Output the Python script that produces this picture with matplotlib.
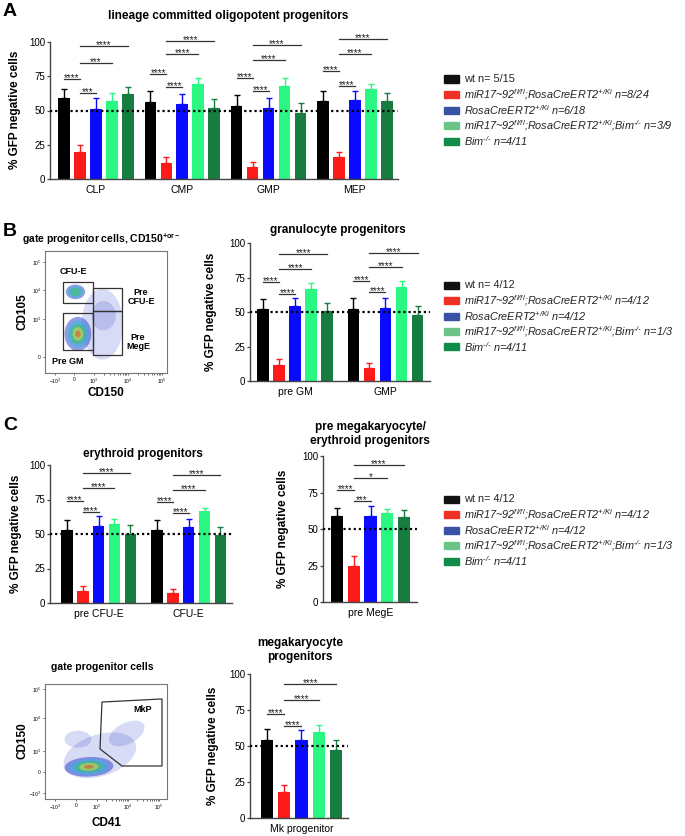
import matplotlib
matplotlib.use('Agg')
import matplotlib.pyplot as plt
from matplotlib.patches import Rectangle, Ellipse, Polygon
import numpy as np

plt.rcParams['font.family'] = ['Liberation Sans', 'DejaVu Sans']
plt.rcParams['mathtext.fontset'] = 'custom'
plt.rcParams['mathtext.default'] = 'regular'
plt.rcParams['mathtext.rm'] = 'Liberation Sans:italic'
plt.rcParams['mathtext.it'] = 'Liberation Sans:italic'
plt.rcParams['mathtext.bf'] = 'Liberation Sans:bold'

W, H = 685, 836

# ---------------- data ----------------
bar_colors = ['#000000', '#ff1a1a', '#0a0aff', '#2bf783', '#177c40']
legend_colors = ['#111111', '#ee3124', '#3953a4', '#6cc387', '#0e8c48']

a_groups = ['CLP', 'CMP', 'GMP', 'MEP']
a_mean = [[59, 20, 51, 57, 62], [56, 11.5, 55, 69, 52],
          [53, 8.5, 52, 68, 48], [57, 16, 58, 66, 57]]
a_err = [[7, 4.5, 8, 6, 5], [8, 4.5, 7, 4.5, 6.5],
         [8, 4, 7, 5.5, 7.5], [7.5, 4, 6, 3.5, 5.5]]
a_heights = [[73, 63, 85, 97], [77, 67, 91, 101],
             [74, 64, 87, 97.5], [78.5, 68, 91, 102]]
a_stars = [['****', '***', '***', '****'], ['****'] * 4,
           ['****'] * 4, ['****'] * 4]

b_groups = ['pre GM', 'GMP']
b_mean = [[52, 11.5, 54, 66.5, 50.5], [52.5, 9.5, 53, 68, 47.5]]
b_err = [[7.5, 4.5, 6, 4.5, 6], [7.5, 3.5, 7, 4.5, 6.5]]
b_heights = [[71.5, 63, 81, 92], [72.5, 64.5, 82.5, 93]]
b_stars = [['****'] * 4, ['****'] * 4]

c_groups = ['pre CFU-E', 'CFU-E']
c_mean = [[53, 9, 56, 57, 50], [53, 7.3, 55, 67, 49]]
c_err = [[7, 3.5, 7, 4, 6.5], [7, 3, 6, 1.5, 6]]
c_heights = [[74, 66, 83.5, 94.5], [73, 65, 82, 93]]
c_stars = [['****'] * 4, ['****'] * 4]

m_groups = ['pre MegE']
m_mean = [[59, 24.5, 59, 61, 58]]
m_err = [[5.5, 7, 7, 2.5, 5]]
m_heights = [[76.5, 69, 85, 93.5]]
m_stars = [['****', '***', '*', '****']]

k_groups = ['Mk progenitor']
k_mean = [[54, 18, 54.5, 60, 47]]
k_err = [[7.5, 5, 6.5, 4.5, 7]]
k_heights = [[72.5, 64, 82, 93]]
k_stars = [['****'] * 4]

# bracket pairs (from bar, to bar)
pairs = [(0, 1), (1, 2), (1, 3), (1, 4)]

legend_a = ['wt n= 5/15',
            'miR17~92$^{\\text{fl/fl}}$;RosaCreERT2$^{\\text{+/Ki}}$ n=8/24',
            'RosaCreERT2$^{\\text{+/Ki}}$ n=6/18',
            'miR17~92$^{\\text{fl/fl}}$;RosaCreERT2$^{\\text{+/Ki}}$;Bim$^{\\text{-/-}}$ n=3/9',
            'Bim$^{\\text{-/-}}$ n=4/11']
legend_bc = ['wt n= 4/12',
             'miR17~92$^{\\text{fl/fl}}$;RosaCreERT2$^{\\text{+/Ki}}$ n=4/12',
             'RosaCreERT2$^{\\text{+/Ki}}$ n=4/12',
             'miR17~92$^{\\text{fl/fl}}$;RosaCreERT2$^{\\text{+/Ki}}$;Bim$^{\\text{-/-}}$ n=1/3',
             'Bim$^{\\text{-/-}}$ n=4/11']

flow_xlabels = ['$-10^3$', '0', '$10^3$', '$10^4$', '$10^5$']

# flow plot B (axis units 0-1)
fb_xticks = [0.082, 0.238, 0.402, 0.68, 0.959]
fb_yticks = [0.131, 0.443, 0.68, 0.91]
fb_ylabels = ['0', '$10^3$', '$10^4$', '$10^5$']
fb_clusters = [  # cx, cy, w, h, angle, levels
    (0.47, 0.40, 0.34, 0.58, 0, 1),
    (0.48, 0.47, 0.2, 0.24, 0, 1),
    (0.27, 0.32, 0.22, 0.28, 0, 5),
    (0.25, 0.665, 0.16, 0.12, 0, 3),
]
fb_gates = {'CFU-E': (0.148, 0.574, 0.393, 0.746),
            'Pre CFU-E': (0.393, 0.508, 0.631, 0.697),
            'Pre GM': (0.148, 0.189, 0.393, 0.492),
            'Pre MegE': (0.393, 0.148, 0.631, 0.508)}
fb_gate_text = [('CFU-E', 0.23, 0.83), ('Pre\nCFU-E', 0.787, 0.623),
                ('Pre\nMegE', 0.762, 0.254), ('Pre GM', 0.19, 0.098)]

# flow plot MkP
fk_xticks = [0.082, 0.254, 0.426, 0.68, 0.934]
fk_yticks = [0.052, 0.235, 0.417, 0.704, 0.957]
fk_ylabels = ['$-10^3$', '0', '$10^3$', '$10^4$', '$10^5$']
fk_clusters = [
    (0.45, 0.38, 0.62, 0.36, 20, 1),
    (0.67, 0.57, 0.32, 0.18, 30, 1),
    (0.27, 0.52, 0.22, 0.15, 0, 1),
    (0.36, 0.28, 0.40, 0.17, 3, 5),
]
fk_gate = [(0.467, 0.843), (0.959, 0.870), (0.959, 0.287),
           (0.631, 0.287), (0.451, 0.435)]

density_colors = ['#2a3cc8', '#2cb6e6', '#3fc35a', '#e6df3a', '#e8402a']


# ---------------- helpers ----------------
fig = plt.figure(figsize=(W / 100, H / 100), dpi=100)


def px_axes(x0, y0, x1, y1):
    return fig.add_axes([x0 / W, 1 - y1 / H, (x1 - x0) / W, (y1 - y0) / H])


def ftext(x, y, s, **kw):
    fig.text(x / W, 1 - y / H, s, **kw)


def bar_panel(box, xlim, gap, groups, means, errs, heights, stars):
    ax = px_axes(*box)
    for g in range(len(groups)):
        xs = g * gap + np.arange(5)
        ax.bar(xs, means[g], width=0.72, color=bar_colors, zorder=2)
        for i in range(5):
            ax.errorbar(xs[i], means[g][i], yerr=[[0], [errs[g][i]]],
                        fmt='none', ecolor=bar_colors[i], elinewidth=1,
                        capsize=2.5, capthick=1, zorder=2)
        for (i, j), h, s in zip(pairs, heights[g], stars[g]):
            ax.plot([xs[i], xs[j]], [h, h], color='#333333', lw=0.9,
                    clip_on=False)
            ax.annotate(s, ((xs[i] + xs[j]) / 2, h), xytext=(0, -1.5),
                        textcoords='offset points', ha='center',
                        va='baseline', fontsize=7, color='#222222',
                        annotation_clip=False)
    ax.axhline(50, color='black', lw=1.6, ls=(0, (1, 1.3)), zorder=3,
               clip_on=False)
    ax.set_xlim(*xlim)
    ax.set_ylim(0, 100)
    ax.set_xticks([g * gap + 2 for g in range(len(groups))])
    ax.set_xticklabels(groups, fontsize=7.5)
    ax.tick_params(axis='x', length=0, pad=4)
    ax.set_yticks([0, 25, 50, 75, 100])
    ax.tick_params(axis='y', length=2.5, width=0.9, pad=1, labelsize=7,
                   color='#444444')
    for sp in ['top', 'right']:
        ax.spines[sp].set_visible(False)
    for sp in ['left', 'bottom']:
        ax.spines[sp].set_color('#444444')
        ax.spines[sp].set_linewidth(1)
    return ax


def legend_block(x, y0, dy, labels):
    for i, lab in enumerate(labels):
        y = y0 + i * dy
        fig.patches.append(Rectangle(((x) / W, 1 - (y + 3.5) / H), 15 / W,
                                     7 / H, transform=fig.transFigure,
                                     color=legend_colors[i], figure=fig))
        style = 'normal' if i == 0 else 'italic'
        ftext(x + 20, y, lab, fontsize=7.8, style=style, va='center',
              color='#222222')


def flow_panel(box, xticks, yticks, ylabels, clusters):
    ax = px_axes(*box)
    ax.set_xlim(0, 1)
    ax.set_ylim(0, 1)
    for cx, cy, w, h, ang, lev in clusters:
        for k in range(lev):
            f = 1 - k * 0.2
            a = 0.18 if lev == 1 else 0.5
            ax.add_patch(Ellipse((cx, cy), w * f, h * f, angle=ang,
                                 color=density_colors[k], alpha=a, lw=0))
    ax.set_xticks(xticks)
    ax.set_xticklabels(flow_xlabels, fontsize=3.5, fontstyle='normal')
    ax.set_yticks(yticks)
    ax.set_yticklabels(ylabels, fontsize=3.5)
    minors = []
    for t0, t1 in zip(xticks[2:-1], xticks[3:]):
        minors += list(t0 + (t1 - t0) * np.log10(np.arange(2, 10)))
    ax.set_xticks(minors, minor=True)
    ax.tick_params(which='both', length=1.5, width=0.5, pad=1.5,
                   color='#333333')
    for sp in ax.spines.values():
        sp.set_color('#777777')
        sp.set_linewidth(0.8)
    return ax


# ---------------- panel A ----------------
ftext(3, 12, 'A', fontsize=14, weight='bold', va='center')
ftext(228, 16, 'lineage committed oligopotent progenitors', fontsize=8.5,
      weight='bold', ha='center', va='center')
bar_panel((50, 42, 398, 179), (-0.875, 20.9), 5.4, a_groups, a_mean, a_err,
          a_heights, a_stars)
ftext(15, 110, '% GFP negative cells', fontsize=8.5, weight='bold',
      rotation=90, ha='center', va='center')
legend_block(444, 79, 15.6, legend_a)

# ---------------- panel B ----------------
ftext(3, 232, 'B', fontsize=14, weight='bold', va='center')
ftext(22, 239, 'gate progenitor cells, CD150$^{\\mathbf{+or-}}$',
      fontsize=7.5, weight='bold', va='center')
axf = flow_panel((45, 251, 167, 373), fb_xticks, fb_yticks, fb_ylabels,
                 fb_clusters)
for name, (x0, y0, x1, y1) in fb_gates.items():
    axf.add_patch(Rectangle((x0, y0), x1 - x0, y1 - y0, fill=False,
                            ec='#333333', lw=0.9))
for s, x, y in fb_gate_text:
    axf.text(x, y, s, fontsize=6.5, weight='bold', ha='center', va='center',
             linespacing=1.1)
ftext(106, 393, 'CD150', fontsize=8.5, weight='bold', ha='center',
      va='center')
ftext(22, 312, 'CD105', fontsize=8.5, weight='bold', rotation=90,
      ha='center', va='center')

ftext(338, 230, 'granulocyte progenitors', fontsize=8.5, weight='bold',
      ha='center', va='center')
bar_panel((250, 243, 430, 381), (-0.8125, 10.4), 5.625, b_groups, b_mean,
          b_err, b_heights, b_stars)
ftext(211, 312, '% GFP negative cells', fontsize=8.5, weight='bold',
      rotation=90, ha='center', va='center')
legend_block(444, 285, 15.5, legend_bc)

# ---------------- panel C ----------------
ftext(3, 425, 'C', fontsize=14, weight='bold', va='center')
ftext(143, 454, 'erythroid progenitors', fontsize=8.5, weight='bold',
      ha='center', va='center')
bar_panel((50, 465, 232, 603), (-1.08, 10.44), 5.7, c_groups, c_mean, c_err,
          c_heights, c_stars)
ftext(16, 534, '% GFP negative cells', fontsize=8.5, weight='bold',
      rotation=90, ha='center', va='center')

ftext(370, 434, 'pre megakaryocyte/\nerythroid progenitors', fontsize=8.5,
      weight='bold', ha='center', va='center', linespacing=1.2)
bar_panel((323, 456, 417, 602), (-0.84, 4.78), 5, m_groups, m_mean, m_err,
          m_heights, m_stars)
ftext(283, 529, '% GFP negative cells', fontsize=8.5, weight='bold',
      rotation=90, ha='center', va='center')
legend_block(444, 499, 15.5, legend_bc)

# ---------------- bottom row ----------------
ftext(102, 667, 'gate progenitor cells', fontsize=7.5, weight='bold',
      ha='center', va='center')
axk = flow_panel((45, 684, 167, 799), fk_xticks, fk_yticks, fk_ylabels,
                 fk_clusters)
axk.add_patch(Polygon(fk_gate, closed=True, fill=False, ec='#333333',
                      lw=0.9))
axk.text(0.803, 0.774, 'MkP', fontsize=6.5, weight='bold', ha='center',
         va='center')
ftext(106, 823, 'CD41', fontsize=8.5, weight='bold', ha='center',
      va='center')
ftext(22, 741, 'CD150', fontsize=8.5, weight='bold', rotation=90,
      ha='center', va='center')

ftext(300, 650, 'megakaryocyte\nprogenitors', fontsize=8.5, weight='bold',
      ha='center', va='center', linespacing=1.2)
bar_panel((250, 674, 348, 818), (-0.99, 4.7), 5, k_groups, k_mean, k_err,
          k_heights, k_stars)
ftext(213, 746, '% GFP negative cells', fontsize=8.5, weight='bold',
      rotation=90, ha='center', va='center')

fig.savefig('out.png', dpi=100)
